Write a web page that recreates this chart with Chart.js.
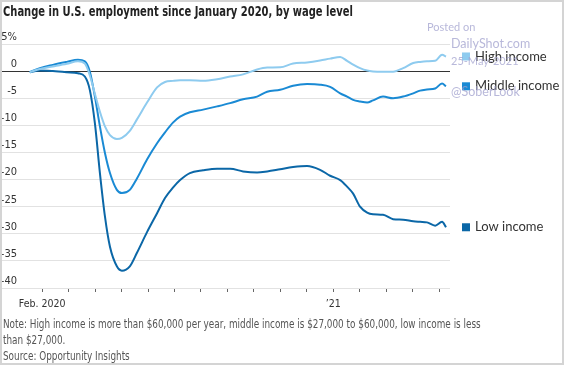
<!DOCTYPE html>
<html>
<head>
<meta charset="utf-8">
<script src="https://cdn.jsdelivr.net/npm/chart.js@4.4.1/dist/chart.umd.min.js"></script>
<style>
  html, body { margin: 0; padding: 0; background: #fff; }
  #wrap { position: relative; width: 564px; height: 365px; overflow: hidden; }
  #chart { position: absolute; left: 0; top: 0; }
  .narrow { font-family: "Liberation Sans Narrow", "DejaVu Sans Condensed", sans-serif; font-stretch: condensed; white-space: nowrap; }
  #title { position: absolute; left: 3px; top: 3px; font-size: 14px; font-weight: bold; color: #222; transform: scaleX(0.79); transform-origin: left top; }
  .note { position: absolute; left: 3px; font-size: 12px; color: #555; transform: scaleX(0.82); transform-origin: left top; }
  .wm { position: absolute; font-family: Lato, "Open Sans", sans-serif; color: rgba(160,160,205,0.75); white-space: nowrap; }
  #frame { position: absolute; left: 0; top: 0; width: 564px; height: 365px; box-sizing: border-box; border: 2px solid #d4d4d4; pointer-events: none; }
</style>
</head>
<body>
<div id="wrap">
  <canvas id="chart" width="564" height="365"></canvas>
  <div id="title" class="narrow">Change in U.S. employment since January 2020, by wage level</div>
  <div class="wm" style="left:427px;top:20px;font-size:11px;">Posted on</div>
  <div class="wm" style="left:451px;top:36px;font-size:12.5px;">DailyShot.com</div>
  <div class="wm" style="left:451px;top:54px;font-size:11px;">25-May-2021</div>
  <div class="wm" style="left:451px;top:84px;font-size:12.5px;">@SoberLook</div>
  <div class="note narrow" style="top:317px;">Note: High income is more than $60,000 per year, middle income is $27,000 to $60,000, low income is less</div>
  <div class="note narrow" style="top:333px;">than $27,000.</div>
  <div class="note narrow" style="top:349px;">Source: Opportunity Insights</div>
  <div id="frame"></div>
</div>
<script>
// months since Jan 2020 (Feb. 2020 = 1, Jan. 2021 = 12)
const months = [0.53, 0.91, 1.40, 1.93, 2.35, 2.61, 2.80, 2.99, 3.18, 3.37, 3.56, 3.82, 4.01, 4.31, 4.58,
  4.96, 5.34, 5.64, 5.94, 6.21, 6.58, 7.08, 7.61, 8.10, 8.59, 9.12, 9.50, 9.99, 10.48, 11.01, 11.50,
  11.88, 12.26, 12.52, 12.75, 13.01, 13.28, 13.50, 13.88, 14.26, 14.64, 15.02, 15.28, 15.54, 15.85, 16.11, 16.26];

// % change in employment
const highIncome = [-0.2, 0.4, 0.85, 1.35, 1.8, 1.4, -0.8, -4.2, -7.5, -10.2, -11.8, -12.5, -12.3, -11.0, -8.9,
  -5.8, -3.0, -2.0, -1.8, -1.7, -1.7, -1.8, -1.5, -1.0, -0.6, 0.3, 0.65, 0.7, 1.4, 1.6, 1.95,
  2.3, 2.6, 1.9, 1.2, 0.55, 0.1, -0.05, -0.1, -0.1, 0.55, 1.5, 1.7, 1.8, 1.9, 3.0, 2.7];
const middleIncome = [-0.2, 0.55, 1.15, 1.7, 2.1, 1.8, -0.1, -4.7, -10.2, -15.1, -18.8, -21.9, -22.5, -21.9, -19.8,
  -16.3, -13.3, -11.3, -9.5, -8.4, -7.6, -7.1, -6.5, -5.9, -5.2, -4.7, -3.8, -3.45, -2.7, -2.4, -2.5,
  -2.9, -4.1, -4.7, -5.3, -5.6, -5.8, -5.4, -4.7, -5.0, -4.7, -4.1, -3.6, -3.4, -3.2, -2.3, -2.8];
const lowIncome = [-0.2, 0.1, 0.0, -0.2, -0.4, -1.0, -3.5, -9.6, -18.8, -26.8, -32.4, -36.0, -36.8, -36.0, -33.5,
  -29.7, -26.2, -23.4, -21.5, -20.1, -18.8, -18.3, -18.0, -18.0, -18.5, -18.7, -18.5, -18.1, -17.7, -17.5, -18.2,
  -19.3, -20.1, -21.3, -22.6, -25.0, -26.1, -26.4, -26.5, -27.3, -27.4, -27.7, -27.8, -27.9, -28.5, -27.8, -28.8];

const seriesNames = ['High income', 'Middle income', 'Low income'];
const seriesColors = ['#8ecbef', '#1a8ad4', '#0b67a7'];

const yTicks = [5, 0, -5, -10, -15, -20, -25, -30, -35, -40];
const xTickMonths = [1, 2, 3, 4, 5, 6, 7, 8, 9, 10, 11, 12, 13, 14, 15, 16];
const xTickLabels = { 1: 'Feb. 2020', 12: '\u201921' };

const narrowFont = '"Liberation Sans Narrow", "DejaVu Sans Condensed", sans-serif';

function toPoints(values) {
  return months.map((m, i) => ({ x: m, y: values[i] }));
}

// labels with a square key at the end of each line
const endLabels = {
  id: 'endLabels',
  afterDatasetsDraw(chart) {
    const { ctx, chartArea, scales: { y } } = chart;
    chart.data.datasets.forEach(ds => {
      const last = ds.data[ds.data.length - 1];
      const py = y.getPixelForValue(last.y);
      ctx.save();
      ctx.fillStyle = ds.borderColor;
      ctx.fillRect(chartArea.right + 12, py - 4, 8, 8);
      ctx.fillStyle = '#333';
      ctx.font = '13px Lato, "Open Sans", sans-serif';
      ctx.textBaseline = 'middle';
      ctx.fillText(ds.label, chartArea.right + 25, py);
      ctx.restore();
    });
  }
};

new Chart(document.getElementById('chart'), {
  type: 'line',
  data: {
    datasets: [highIncome, middleIncome, lowIncome].map((vals, i) => ({
      label: seriesNames[i],
      data: toPoints(vals),
      borderColor: seriesColors[i],
      backgroundColor: seriesColors[i],
      borderWidth: 2,
      pointRadius: 0,
      fill: false,
      cubicInterpolationMode: 'monotone'
    }))
  },
  options: {
    responsive: false,
    animation: false,
    layout: { padding: { top: 44, right: 114, bottom: 47, left: 0 } },
    plugins: { legend: { display: false }, tooltip: { enabled: false } },
    scales: {
      x: {
        type: 'linear',
        min: 0.16,
        max: 16.41,
        afterBuildTicks: s => { s.ticks = xTickMonths.map(v => ({ value: v })); },
        afterFit: s => { s.height = 30; },
        border: { display: false },
        grid: { drawOnChartArea: false, tickLength: 4, tickColor: '#666' },
        ticks: {
          autoSkip: false,
          maxRotation: 0,
          padding: 6,
          color: '#333',
          font: { family: narrowFont, size: 10.5 },
          callback: v => xTickLabels[v] || ''
        }
      },
      y: {
        min: -40,
        max: 5,
        afterBuildTicks: s => { s.ticks = yTicks.map(v => ({ value: v })); },
        afterFit: s => { s.width = 20; },
        border: { display: false },
        grid: {
          color: c => (c.tick && c.tick.value === 0) ? '#333' : '#e2e2e2',
          tickLength: 20
        },
        ticks: {
          padding: -17,
          labelOffset: -7,
          crossAlign: 'near',
          color: '#333',
          font: { family: narrowFont, size: 11 },
          callback: v => v === 5 ? '5%' : String(v)
        }
      }
    }
  },
  plugins: [endLabels]
});
</script>
</body>
</html>
